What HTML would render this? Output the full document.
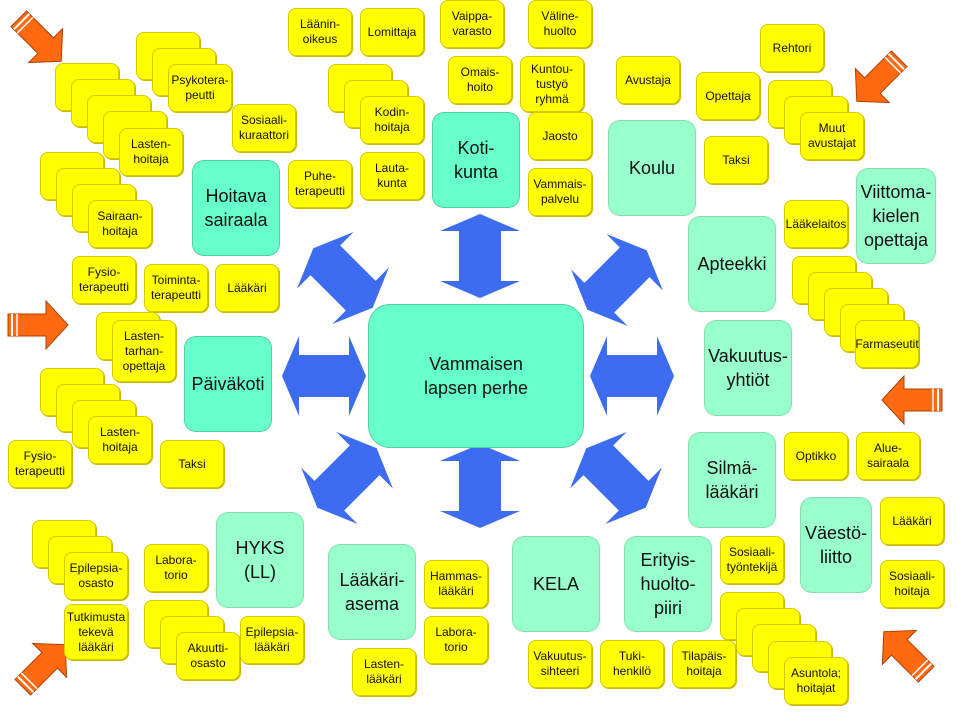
<!DOCTYPE html>
<html><head><meta charset="utf-8"><style>
body{margin:0;width:959px;height:719px;background:#fff;position:relative;overflow:hidden;font-family:"Liberation Sans",sans-serif}
.y,.t,.l{position:absolute;display:flex;align-items:center;justify-content:center;text-align:center;box-sizing:border-box}
.y{width:64px;height:48px;background:#ffff00;border:1px solid #d8c800;border-radius:8px;font-size:12px;line-height:15px;color:#111;box-shadow:1px 1px 0 #c8b800}
.t{width:88px;height:96px;background:#66ffcc;border:1px solid #55ccaa;border-radius:12px;font-size:18px;line-height:24px;color:#111}
.l{width:88px;height:96px;background:#99ffcc;border:1px solid #88ddaa;border-radius:12px;font-size:18px;line-height:24px;color:#111}
svg{position:absolute;left:0;top:0}
</style></head><body>
<svg width="959" height="719">
<defs>
<polygon id="ba" points="0,-42 40,-25 21,-25 21,25 40,25 0,42 -40,25 -21,25 -21,-25 -40,-25" fill="#3d6cf0"/>
<g id="oa"><polygon points="-30,-11 8,-11 8,-24 30,0 8,24 8,11 -30,11" fill="#ff6a10" stroke="#b04000" stroke-width="1"/><line x1="-26" y1="-11" x2="-26" y2="11" stroke="#fff" stroke-width="2"/><line x1="-21" y1="-11" x2="-21" y2="11" stroke="#fff" stroke-width="1.5"/></g>
</defs>
<use href="#ba" transform="translate(480,256)"/>
<use href="#ba" transform="translate(480,486)"/>
<use href="#ba" transform="translate(324,376) rotate(90)"/>
<use href="#ba" transform="translate(632,376) rotate(90)"/>
<use href="#ba" transform="translate(343,278) rotate(-45)"/>
<use href="#ba" transform="translate(617,280) rotate(45)"/>
<use href="#ba" transform="translate(347,478) rotate(45)"/>
<use href="#ba" transform="translate(616,478) rotate(-45)"/>
<use href="#oa" transform="translate(40,40) rotate(45)"/>
<use href="#oa" transform="translate(38,325)"/>
<use href="#oa" transform="translate(44,666) rotate(-45)"/>
<use href="#oa" transform="translate(878,80) rotate(135)"/>
<use href="#oa" transform="translate(912,400) rotate(180)"/>
<use href="#oa" transform="translate(905,653) rotate(-135)"/>
</svg>

<div class="y" style="left:55px;top:63px"></div><div class="y" style="left:71px;top:79px"></div><div class="y" style="left:87px;top:95px"></div><div class="y" style="left:103px;top:111px"></div><div class="y" style="left:119px;top:128px">Lasten-<br>hoitaja</div>
<div class="y" style="left:136px;top:32px"></div><div class="y" style="left:152px;top:48px"></div><div class="y" style="left:168px;top:64px">Psykotera-<br>peutti</div>
<div class="y" style="left:232px;top:104px">Sosiaali-<br>kuraattori</div>
<div class="y" style="left:40px;top:152px"></div><div class="y" style="left:56px;top:168px"></div><div class="y" style="left:72px;top:184px"></div><div class="y" style="left:88px;top:200px">Sairaan-<br>hoitaja</div>
<div class="y" style="left:288px;top:160px">Puhe-<br>terapeutti</div>
<div class="t" style="left:192px;top:160px">Hoitava<br>sairaala</div>
<div class="y" style="left:72px;top:256px">Fysio-<br>terapeutti</div>
<div class="y" style="left:144px;top:264px">Toiminta-<br>terapeutti</div>
<div class="y" style="left:215px;top:264px">Lääkäri</div>
<div class="y" style="left:96px;top:312px"></div><div class="y" style="left:112px;top:320px;height:62px">Lasten-<br>tarhan-<br>opettaja</div>
<div class="t" style="left:184px;top:336px">Päiväkoti</div>
<div class="y" style="left:40px;top:368px"></div><div class="y" style="left:56px;top:384px"></div><div class="y" style="left:72px;top:400px"></div><div class="y" style="left:88px;top:416px">Lasten-<br>hoitaja</div>
<div class="y" style="left:8px;top:440px">Fysio-<br>terapeutti</div>
<div class="y" style="left:160px;top:440px">Taksi</div>
<div class="y" style="left:32px;top:520px"></div><div class="y" style="left:48px;top:536px"></div><div class="y" style="left:64px;top:552px">Epilepsia-<br>osasto</div>
<div class="y" style="left:64px;top:604px;height:56px">Tutkimusta<br>tekevä<br>lääkäri</div>
<div class="y" style="left:144px;top:544px">Labora-<br>torio</div>
<div class="y" style="left:144px;top:600px"></div><div class="y" style="left:160px;top:616px"></div><div class="y" style="left:176px;top:632px">Akuutti-<br>osasto</div>
<div class="y" style="left:240px;top:616px">Epilepsia-<br>lääkäri</div>
<div class="l" style="left:216px;top:512px">HYKS<br>(LL)</div>
<div class="l" style="left:328px;top:544px">Lääkäri-<br>asema</div>
<div class="y" style="left:424px;top:560px">Hammas-<br>lääkäri</div>
<div class="y" style="left:424px;top:616px">Labora-<br>torio</div>
<div class="y" style="left:352px;top:648px">Lasten-<br>lääkäri</div>
<div class="l" style="left:512px;top:536px">KELA</div>
<div class="y" style="left:528px;top:640px">Vakuutus-<br>sihteeri</div>
<div class="y" style="left:600px;top:640px">Tuki-<br>henkilö</div>
<div class="y" style="left:672px;top:640px">Tilapäis-<br>hoitaja</div>
<div class="l" style="left:624px;top:536px">Erityis-<br>huolto-<br>piiri</div>
<div class="y" style="left:720px;top:536px">Sosiaali-<br>työntekijä</div>
<div class="y" style="left:720px;top:592px"></div><div class="y" style="left:736px;top:608px"></div><div class="y" style="left:752px;top:624px"></div><div class="y" style="left:768px;top:641px"></div><div class="y" style="left:784px;top:657px">Asuntola;<br>hoitajat</div>
<div class="l" style="left:800px;top:497px;width:72px">Väestö-<br>liitto</div>
<div class="y" style="left:880px;top:497px">Lääkäri</div>
<div class="y" style="left:880px;top:560px">Sosiaali-<br>hoitaja</div>
<div class="l" style="left:688px;top:432px">Silmä-<br>lääkäri</div>
<div class="y" style="left:784px;top:432px">Optikko</div>
<div class="y" style="left:856px;top:432px">Alue-<br>sairaala</div>
<div class="l" style="left:704px;top:320px">Vakuutus-<br>yhtiöt</div>
<div class="y" style="left:792px;top:256px"></div><div class="y" style="left:808px;top:272px"></div><div class="y" style="left:824px;top:288px"></div><div class="y" style="left:840px;top:304px"></div><div class="y" style="left:855px;top:320px">Farmaseutit</div>
<div class="l" style="left:688px;top:216px">Apteekki</div>
<div class="y" style="left:784px;top:200px">Lääkelaitos</div>
<div class="l" style="left:856px;top:168px;width:80px">Viittoma-<br>kielen<br>opettaja</div>
<div class="l" style="left:608px;top:120px">Koulu</div>
<div class="y" style="left:704px;top:136px">Taksi</div>
<div class="y" style="left:616px;top:56px">Avustaja</div>
<div class="y" style="left:696px;top:72px">Opettaja</div>
<div class="y" style="left:760px;top:24px">Rehtori</div>
<div class="y" style="left:768px;top:80px"></div><div class="y" style="left:784px;top:96px"></div><div class="y" style="left:800px;top:112px">Muut<br>avustajat</div>
<div class="t" style="left:432px;top:112px">Koti-<br>kunta</div>
<div class="y" style="left:288px;top:8px">Läänin-<br>oikeus</div>
<div class="y" style="left:360px;top:8px">Lomittaja</div>
<div class="y" style="left:440px;top:0px">Vaippa-<br>varasto</div>
<div class="y" style="left:528px;top:0px">Väline-<br>huolto</div>
<div class="y" style="left:448px;top:56px">Omais-<br>hoito</div>
<div class="y" style="left:520px;top:56px;height:56px">Kuntou-<br>tustyö<br>ryhmä</div>
<div class="y" style="left:528px;top:112px">Jaosto</div>
<div class="y" style="left:528px;top:168px">Vammais-<br>palvelu</div>
<div class="y" style="left:328px;top:64px"></div><div class="y" style="left:344px;top:80px"></div><div class="y" style="left:360px;top:96px">Kodin-<br>hoitaja</div>
<div class="y" style="left:360px;top:152px">Lauta-<br>kunta</div>
<div class="t" style="left:368px;top:304px;width:216px;height:144px;border-radius:22px">Vammaisen<br>lapsen perhe</div>
</body></html>
